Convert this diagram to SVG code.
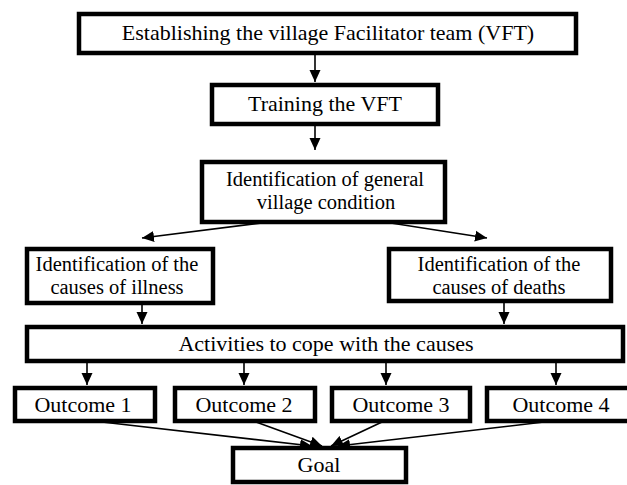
<svg xmlns="http://www.w3.org/2000/svg" width="627" height="485" viewBox="0 0 627 485">
<style>
.box{fill:#fff;stroke:#000;stroke-width:4.5}
.t{font-family:"Liberation Serif","Times New Roman",serif;font-size:22px;fill:#000;text-anchor:middle}
.m{font-size:20.5px}
.c{stroke:#000;stroke-width:1.6;fill:none;marker-end:url(#ah)}
</style>
<defs>
<marker id="ah" markerUnits="userSpaceOnUse" markerWidth="12" markerHeight="12" viewBox="0 0 12 12" refX="12" refY="6" orient="auto">
<path d="M0,0.5 L12,6 L0,11.5 Z" fill="#000"/>
</marker>
</defs>
<rect width="627" height="485" fill="#fff"/>
<g id="connectors">
<line class="c" x1="315" y1="55" x2="315" y2="82"/>
<line class="c" x1="315" y1="126" x2="315" y2="150"/>
<line class="c" x1="333" y1="214" x2="142" y2="238"/>
<line class="c" x1="333" y1="214" x2="487" y2="238"/>
<line class="c" x1="142" y1="288" x2="142" y2="324"/>
<line class="c" x1="504" y1="288" x2="504" y2="324"/>
<line class="c" x1="87" y1="363" x2="87" y2="385"/>
<line class="c" x1="244" y1="363" x2="244" y2="385"/>
<line class="c" x1="386" y1="363" x2="386" y2="385"/>
<line class="c" x1="556" y1="363" x2="556" y2="385"/>
<line class="c" x1="102" y1="422" x2="312" y2="446"/>
<line class="c" x1="256" y1="422" x2="322" y2="446"/>
<line class="c" x1="382" y1="422" x2="331" y2="446"/>
<line class="c" x1="544" y1="422" x2="338" y2="446"/>
</g>
<g id="n1"><rect class="box" x="79" y="14" width="497" height="39"/><text class="t" x="328" y="40">Establishing the village Facilitator team (VFT)</text></g>
<g id="n2"><rect class="box" x="212" y="85" width="226" height="39"/><text class="t" x="325" y="111">Training the VFT</text></g>
<g id="n3"><rect class="box" x="202" y="162" width="243" height="60"/><text class="t m" x="325" y="186">Identification of general</text><text class="t m" x="326" y="209">village condition</text></g>
<g id="n4"><rect class="box" x="27" y="249" width="186" height="54"/><text class="t m" x="117" y="271">Identification of the</text><text class="t m" x="117" y="294">causes of illness</text></g>
<g id="n5"><rect class="box" x="389" y="249" width="222" height="52"/><text class="t m" x="499" y="271">Identification of the</text><text class="t m" x="499" y="294">causes of deaths</text></g>
<g id="n6"><rect class="box" x="27" y="327" width="596" height="34"/><text class="t" x="326" y="351">Activities to cope with the causes</text></g>
<g id="n7"><rect class="box" x="15" y="388" width="140" height="33"/><text class="t" x="83" y="412">Outcome 1</text></g>
<g id="n8"><rect class="box" x="175" y="388" width="140" height="33"/><text class="t" x="244" y="412">Outcome 2</text></g>
<g id="n9"><rect class="box" x="332" y="388" width="138" height="33"/><text class="t" x="401" y="412">Outcome 3</text></g>
<g id="n10"><rect class="box" x="487" y="388" width="145" height="33"/><text class="t" x="561" y="412">Outcome 4</text></g>
<g id="n11"><rect class="box" x="233" y="448" width="173" height="34"/><text class="t" x="319" y="472">Goal</text></g>
</svg>
